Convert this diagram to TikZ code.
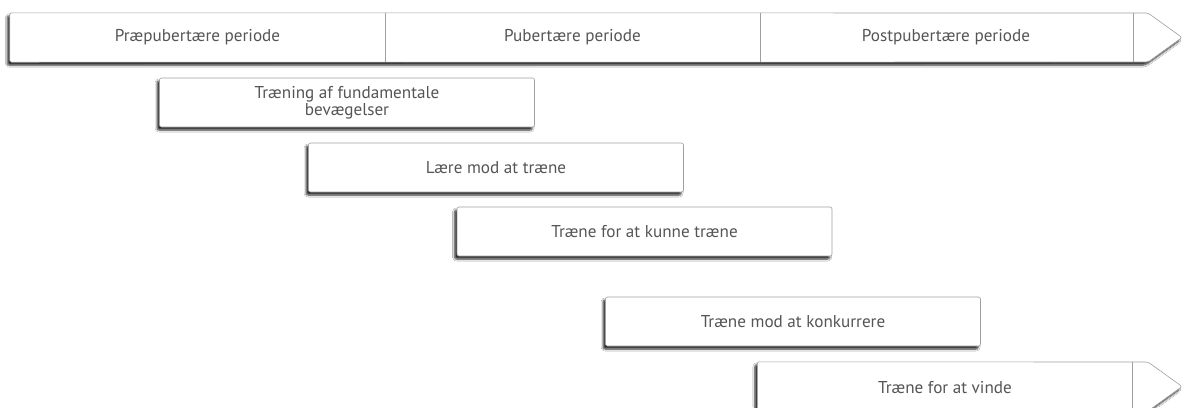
\documentclass[tikz,border=0pt]{standalone}
\usepackage{fontspec}
\setmainfont{PT Sans}
\usetikzlibrary{shadows.blur}
\definecolor{edge}{HTML}{A0A0A0}
\definecolor{ink}{HTML}{555555}
\tikzset{
  softshadow/.style={blur shadow={shadow xshift=-2.4bp, shadow yshift=-3bp,
      shadow blur radius=2bp, shadow blur steps=6, shadow opacity=85}},
  labelfont/.style={font=\fontsize{17.2}{15}\selectfont, text=ink},
  stagebox/.style={draw=edge, line width=0.6bp, fill=white, rounded corners=2bp,
      minimum width=375bp, minimum height=49bp, inner sep=0pt, softshadow,
      align=center, labelfont},
  segment/.style={minimum width=375bp, minimum height=49bp, inner sep=0pt},
  seglabel/.style={inner sep=0pt, labelfont}
}
\begin{document}
\begin{tikzpicture}[x=1bp, y=-1bp]
\useasboundingbox (0,0) rectangle (1182,407);
\clip (0,0) rectangle (1182,407);
\fill[white] (0,0) rectangle (1182,407);

% period axis: three segments followed by an arrow head
\node[segment] (pre)  at (197.5,37.5) {};
\node[segment] (pub)  at (572.5,37.5) {};
\node[segment] (post) at (946,37.5)   {};
\coordinate (tip) at (1182,37.5);
\draw[edge, line width=0.6bp, fill=white, rounded corners=2bp, softshadow]
  (pre.north west) -- (1148,13) -- (tip) -- (1148,62) -- (pre.south west) -- cycle;
\node[seglabel] (prelbl)  at (pre)  {Præpubertære periode};
\node[seglabel] (publbl)  at (pub)  {Pubertære periode};
\node[seglabel] (postlbl) at (post) {Postpubertære periode};
\draw[edge, line width=0.6bp] (pre.north east) -- (pre.south east);
\draw[edge, line width=0.6bp] (pub.north east) -- (pub.south east);
\draw[edge, line width=0.6bp] (post.north east) -- (post.south east);

% training stages
\node[stagebox] (fund)  at (347,102.5)  {Træning af fundamentale\\bevægelser};
\node[stagebox] (laere) at (496,167.5)  {Lære mod at træne};
\node[stagebox] (kunne) at (644.5,231.5) {Træne for at kunne træne};
\node[stagebox] (konk)  at (793,321.5)  {Træne mod at konkurrere};

% last stage ends in an arrow head
\node[segment] (vinde) at (945,386.5) {};
\coordinate (vtip) at (1182,386.5);
\draw[edge, line width=0.6bp, fill=white, rounded corners=2bp, softshadow]
  (vinde.north west) -- (1148,362) -- (vtip) -- (1148,411) -- (vinde.south west) -- cycle;
\node[seglabel] (vindelbl) at ([yshift=-1bp]vinde) {Træne for at vinde};
\draw[edge, line width=0.6bp] (vinde.north east) -- (vinde.south east);
\end{tikzpicture}
\end{document}
